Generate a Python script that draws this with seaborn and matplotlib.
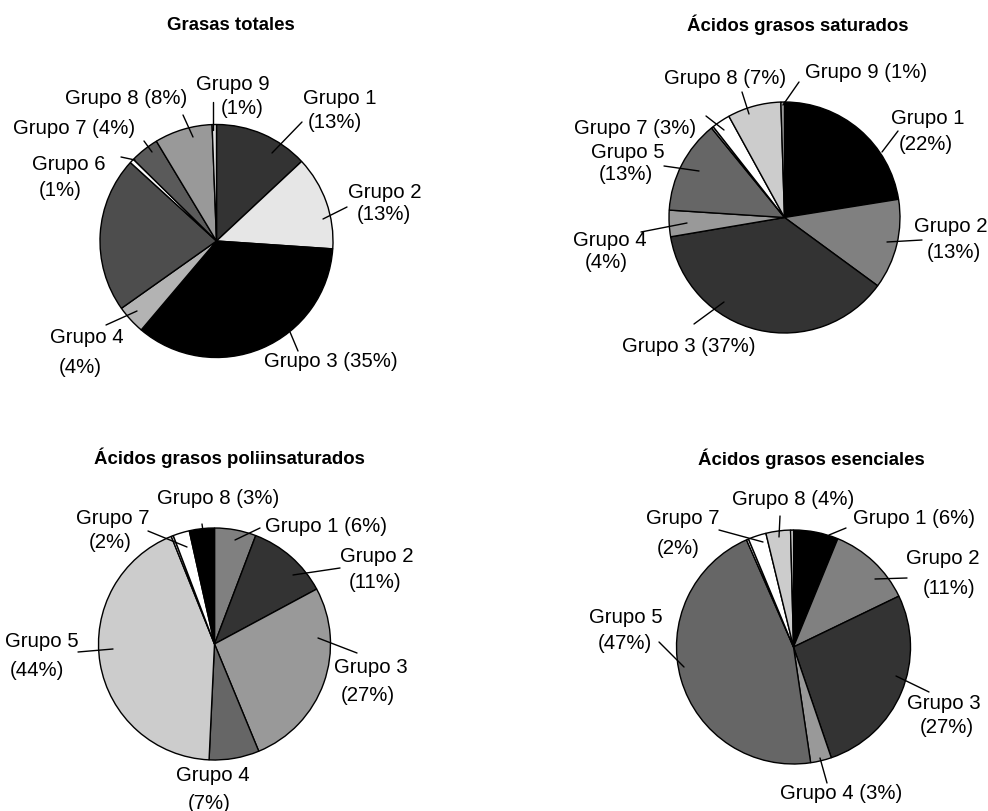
import matplotlib
matplotlib.use("Agg")
import matplotlib.pyplot as plt
import seaborn as sns

# ---------------- data ----------------
groups = ["Grupo 1", "Grupo 2", "Grupo 3", "Grupo 4", "Grupo 5",
          "Grupo 6", "Grupo 7", "Grupo 8", "Grupo 9"]

titles = ["Grasas totales", "Ácidos grasos saturados",
          "Ácidos grasos poliinsaturados", "Ácidos grasos esenciales"]

totales = [13, 13, 35, 4, 21.5, 0.6, 4, 8, 0.6]
saturados = [22.5, 12.6, 37.3, 3.7, 13.1, 0.3, 2.6, 7.5, 0.5]
poliinsaturados = [5.8, 11.4, 26.7, 7.0, 43.3, 0.3, 2.3, 3.5, 0.0]
esenciales = [6.2, 11.7, 27.0, 2.9, 45.9, 0.3, 2.5, 3.4, 0.4]

lab_totales = ["Grupo 1\n(13%)", "Grupo 2\n(13%)", "Grupo 3 (35%)", "Grupo 4\n(4%)",
               None, "Grupo 6\n(1%)", "Grupo 7 (4%)", "Grupo 8 (8%)", "Grupo 9\n(1%)"]
lab_saturados = ["Grupo 1\n(22%)", "Grupo 2\n(13%)", "Grupo 3 (37%)", "Grupo 4\n(4%)",
                 "Grupo 5\n(13%)", None, "Grupo 7 (3%)", "Grupo 8 (7%)", "Grupo 9 (1%)"]
lab_poli = ["Grupo 1 (6%)", "Grupo 2\n(11%)", "Grupo 3\n(27%)", "Grupo 4\n(7%)",
            "Grupo 5\n(44%)", None, "Grupo 7\n(2%)", "Grupo 8 (3%)", None]
lab_esenciales = ["Grupo 1 (6%)", "Grupo 2\n(11%)", "Grupo 3\n(27%)", "Grupo 4 (3%)",
                  "Grupo 5\n(47%)", None, "Grupo 7\n(2%)", "Grupo 8 (4%)", None]

col_totales = ["#333333", "#e6e6e6", "#000000", "#b3b3b3", "#4d4d4d",
               "#ffffff", "#5a5a5a", "#999999", "#e0e0e0"]
col_saturados = ["#000000", "#808080", "#333333", "#999999", "#666666",
                 "#b3b3b3", "#ffffff", "#cccccc", "#999999"]
col_poli = ["#808080", "#333333", "#999999", "#666666", "#cccccc",
            "#e6e6e6", "#ffffff", "#000000", "#ffffff"]
col_esenciales = ["#000000", "#808080", "#333333", "#999999", "#666666",
                  "#e6e6e6", "#ffffff", "#cccccc", "#e6e6e6"]

# ---------------- layout (pixels, y down) ----------------
W, H = 988, 812
charts = [
    dict(values=totales, labels=lab_totales, colors=col_totales, title=titles[0],
         center=(216.5, 242), r=116.5, title_xy=(231, 25),
         text_pos=[[(340, 99), (335, 122)], [(385, 192), (384, 215)], [(331, 362)],
                   [(87, 338), (80, 368)], None, [(69, 165), (60, 190)],
                   [(74, 129)], [(126, 99)], [(233, 85), (242, 108)]],
         lines=[((302, 123), (272, 154)), ((347, 208), (323, 220)), ((298, 352), (290, 333)),
                ((106, 326), (137, 312)), None, ((121, 158), (135, 161)),
                ((144, 142), (152, 153)), ((183, 116), (193, 138)), ((213, 103), (213, 131))]),
    dict(values=saturados, labels=lab_saturados, colors=col_saturados, title=titles[1],
         center=(784.5, 218.5), r=115.5, title_xy=(798, 25),
         text_pos=[[(928, 118), (926, 145)], [(951, 227), (954, 252)], [(689, 347)],
                   [(610, 240), (606, 263)], [(628, 152), (626, 175)], None,
                   [(635, 128)], [(725, 78)], [(866, 73)]],
         lines=[((898, 132), (882, 153)), ((922, 241), (887, 243)), ((694, 325), (724, 303)),
                ((641, 233), (687, 224)), ((664, 167), (699, 172)), None,
                ((706, 117), (724, 131)), ((742, 93), (749, 115)), ((799, 83), (783, 106))]),
    dict(values=poliinsaturados, labels=lab_poli, colors=col_poli, title=titles[2],
         center=(214.5, 645), r=116, title_xy=(229, 458),
         text_pos=[[(326, 526)], [(377, 557), (375, 583)], [(371, 668), (368, 696)],
                   [(213, 776), (209, 804)], [(42, 642), (37, 671)], None,
                   [(113, 518), (110, 543)], [(218, 499)], None],
         lines=[((260, 529), (235, 541)), ((340, 569), (293, 576)), ((357, 654), (318, 639)),
                None, ((78, 653), (113, 650)), None,
                ((148, 532), (187, 548)), ((202, 525), (203, 532)), None]),
    dict(values=esenciales, labels=lab_esenciales, colors=col_esenciales, title=titles[3],
         center=(793.5, 648), r=117, title_xy=(811, 459),
         text_pos=[[(914, 519)], [(943, 559), (949, 589)], [(944, 704), (947, 728)],
                   [(841, 794)], [(626, 618), (625, 644)], None,
                   [(683, 519), (678, 549)], [(793, 500)], None],
         lines=[((846, 529), (829, 536)), ((907, 579), (875, 580)), ((929, 693), (896, 677)),
                ((827, 784), (820, 759)), ((659, 643), (684, 668)), None,
                ((719, 531), (763, 543)), ((780, 517), (779, 538)), None]),
]

# ---------------- drawing ----------------
sns.set_theme(style="white")
plt.rcParams['font.family'] = ['Liberation Sans', 'DejaVu Sans']

fig = plt.figure(figsize=(W / 100, H / 100), dpi=100)
ax = fig.add_axes([0, 0, 1, 1])


def Y(y):
    return H - y


for ch in charts:
    vals, cols = [], []
    for v, c in zip(ch["values"], ch["colors"]):
        if v > 0:
            vals.append(v)
            cols.append(c)
    cx, cy = ch["center"]
    ax.pie(vals, colors=cols, startangle=90, counterclock=False,
           center=(cx, Y(cy)), radius=ch["r"], frame=True,
           wedgeprops=dict(edgecolor="black", linewidth=1.0))
    tx, ty = ch["title_xy"]
    ax.text(tx, Y(ty), ch["title"], ha="center", va="center",
            fontsize=13.4, fontweight="bold", color="black")
    for lab, pos, ln in zip(ch["labels"], ch["text_pos"], ch["lines"]):
        if lab is None:
            continue
        for line_txt, (x, y) in zip(lab.split("\n"), pos):
            ax.text(x, Y(y), line_txt, ha="center", va="center",
                    fontsize=14.7, color="black")
        if ln is not None:
            (x0, y0), (x1, y1) = ln
            ax.plot([x0, x1], [Y(y0), Y(y1)], color="black", linewidth=1.0)

ax.set_xlim(0, W)
ax.set_ylim(0, H)
ax.set_aspect("equal")
ax.axis("off")

fig.savefig("out.png", dpi=100, facecolor="white")
